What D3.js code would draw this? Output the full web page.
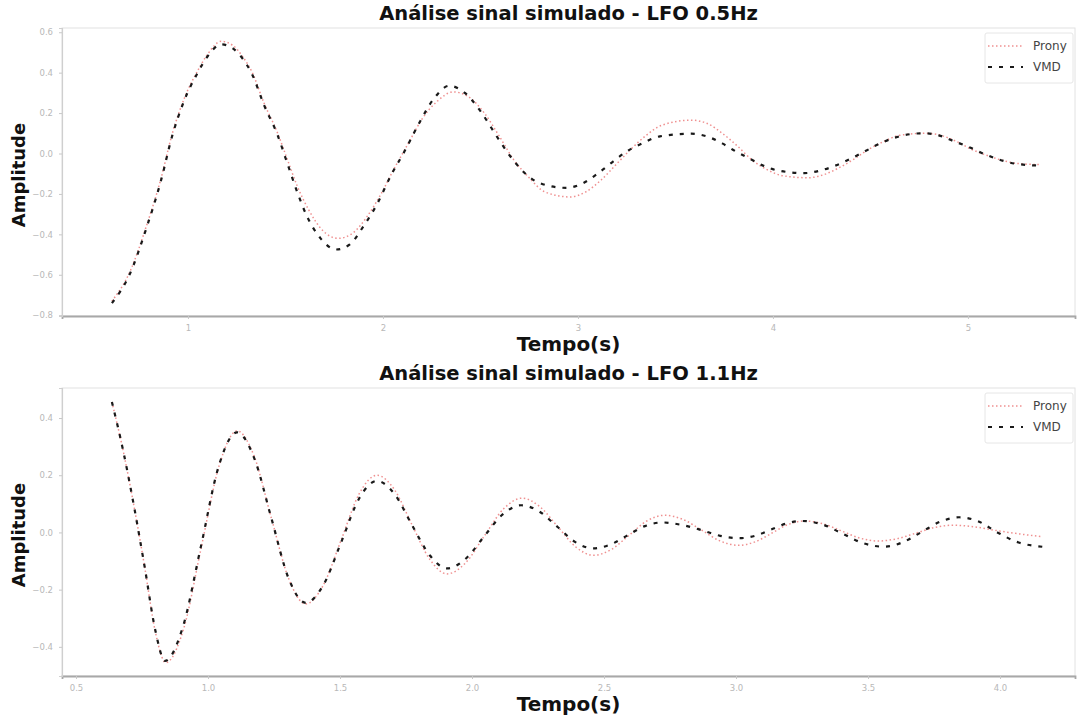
<!DOCTYPE html>
<html>
<head>
<meta charset="utf-8">
<script src="https://cdn.jsdelivr.net/npm/d3@7/dist/d3.min.js"></script>
<style>
  html, body { margin: 0; padding: 0; background: #fff; }
  svg { display: block; }
</style>
</head>
<body>
<svg id="chart" width="1079" height="717"></svg>
<script>
// ---------- DATA ----------
const titles = ["Análise sinal simulado - LFO 0.5Hz", "Análise sinal simulado - LFO 1.1Hz"];
const seriesNames = ["Prony", "VMD"];

// Top plot (LFO 0.5Hz)
const topPronyT = [0.61,0.70,0.79,0.86,0.92,0.98,1.05,1.10,1.17,1.23,1.28,1.33,1.39,1.46,1.51,1.56,1.62,1.69,1.77,1.85,1.92,1.99,2.06,2.13,2.20,2.28,2.36,2.44,2.52,2.60,2.67,2.75,2.83,2.96,3.04,3.12,3.20,3.27,3.35,3.43,3.58,3.66,3.74,3.82,3.89,3.97,4.05,4.18,4.26,4.34,4.42,4.49,4.57,4.65,4.78,4.86,4.94,5.02,5.10,5.18,5.26,5.37];
const topPronyV = [-0.73,-0.59,-0.35,-0.13,0.10,0.27,0.41,0.49,0.555,0.535,0.48,0.40,0.25,0.10,-0.03,-0.16,-0.28,-0.38,-0.42,-0.39,-0.31,-0.20,-0.07,0.05,0.17,0.26,0.305,0.28,0.20,0.08,-0.03,-0.12,-0.19,-0.215,-0.19,-0.13,-0.05,0.02,0.09,0.14,0.165,0.15,0.10,0.035,-0.03,-0.08,-0.11,-0.12,-0.105,-0.07,-0.025,0.02,0.06,0.09,0.10,0.09,0.06,0.02,-0.01,-0.035,-0.05,-0.055];
const topVmdT = [0.61,0.70,0.79,0.86,0.92,0.98,1.05,1.10,1.17,1.23,1.28,1.33,1.39,1.46,1.51,1.56,1.61,1.68,1.76,1.83,1.90,1.97,2.04,2.11,2.18,2.26,2.34,2.42,2.50,2.58,2.65,2.72,2.80,2.94,3.02,3.10,3.18,3.25,3.33,3.42,3.58,3.66,3.74,3.81,3.88,3.95,4.03,4.16,4.24,4.32,4.40,4.47,4.55,4.63,4.77,4.85,4.93,5.01,5.09,5.16,5.24,5.37];
const topVmdV = [-0.74,-0.60,-0.36,-0.14,0.09,0.26,0.40,0.48,0.54,0.52,0.47,0.39,0.24,0.09,-0.05,-0.19,-0.31,-0.42,-0.475,-0.45,-0.36,-0.25,-0.11,0.01,0.14,0.27,0.335,0.30,0.21,0.09,-0.01,-0.09,-0.145,-0.17,-0.15,-0.10,-0.04,0.01,0.05,0.085,0.098,0.085,0.05,0.01,-0.025,-0.06,-0.085,-0.097,-0.085,-0.06,-0.025,0.01,0.05,0.08,0.10,0.09,0.06,0.03,-0.005,-0.03,-0.05,-0.06];

// Bottom plot (LFO 1.1Hz)
const botPronyT = [0.636,0.68,0.72,0.76,0.80,0.84,0.908,0.975,1.043,1.11,1.175,1.24,1.305,1.37,1.437,1.505,1.572,1.64,1.706,1.772,1.84,1.905,1.976,2.047,2.118,2.19,2.257,2.325,2.392,2.46,2.527,2.595,2.662,2.73,2.80,2.87,2.94,3.01,3.072,3.135,3.198,3.26,3.33,3.40,3.47,3.54,3.61,3.68,3.75,3.82,3.90,3.99,4.08,4.16];
const botPronyV = [0.456,0.28,0.09,-0.12,-0.345,-0.455,-0.336,-0.05,0.236,0.355,0.266,0.05,-0.16,-0.25,-0.184,-0.025,0.134,0.20,0.15,0.028,-0.094,-0.145,-0.106,-0.012,0.081,0.12,0.09,0.02,-0.05,-0.08,-0.06,-0.01,0.04,0.06,0.045,0.008,-0.03,-0.045,-0.033,-0.003,0.028,0.04,0.03,0.005,-0.02,-0.03,-0.022,-0.003,0.017,0.025,0.02,0.006,-0.006,-0.015];
const botVmdT = [0.636,0.68,0.72,0.76,0.80,0.837,0.905,0.973,1.04,1.11,1.175,1.24,1.305,1.37,1.437,1.505,1.572,1.64,1.706,1.772,1.84,1.905,1.975,2.045,2.115,2.186,2.255,2.323,2.39,2.46,2.525,2.59,2.655,2.72,2.79,2.87,2.94,3.015,3.075,3.133,3.19,3.25,3.33,3.405,3.48,3.56,3.63,3.70,3.775,3.845,3.915,3.99,4.07,4.16];
const botVmdV = [0.456,0.28,0.09,-0.12,-0.34,-0.449,-0.33,-0.05,0.23,0.35,0.26,0.05,-0.16,-0.246,-0.184,-0.033,0.118,0.18,0.135,0.027,-0.08,-0.126,-0.093,-0.015,0.062,0.095,0.073,0.02,-0.033,-0.056,-0.042,-0.01,0.022,0.035,0.027,0.008,-0.012,-0.02,-0.011,0.01,0.031,0.04,0.027,-0.005,-0.037,-0.05,-0.035,0.0,0.038,0.053,0.04,0.0,-0.035,-0.05];

// Axis ticks
const topXTicks = [1, 2, 3, 4, 5];
const topYTicks = [-0.8, -0.6, -0.4, -0.2, 0.0, 0.2, 0.4, 0.6];
const botXTicks = [0.5, 1.0, 1.5, 2.0, 2.5, 3.0, 3.5, 4.0];
const botYTicks = [-0.4, -0.2, 0.0, 0.2, 0.4];

// ---------- DRAW ----------
const svg = d3.select("#chart");
const fmt1 = d => d3.format(".1f")(d).replace("-", "\u2212");

function panel(cfg) {
  const { top, bottom, left, right, xDomain, yDomain, xTicks, yTicks, xFmt, title, series } = cfg;
  const x = d3.scaleLinear().domain(xDomain).range([left, right]);
  const y = d3.scaleLinear().domain(yDomain).range([bottom, top]);
  const g = svg.append("g");

  // frame
  g.append("rect").attr("x", left).attr("y", top).attr("width", right - left).attr("height", bottom - top)
    .attr("fill", "none").attr("stroke", "#e2e2e2").attr("stroke-width", 1);

  // axes
  const xa = g.append("g").attr("transform", `translate(0,${bottom})`)
    .call(d3.axisBottom(x).tickValues(xTicks).tickFormat(xFmt).tickSize(3).tickPadding(6));
  xa.select(".domain").attr("stroke", "#a8a8a8").attr("stroke-width", 1.8);
  xa.selectAll(".tick line").attr("stroke", "#c8c8c8");
  xa.selectAll(".tick text").attr("fill", "#b8b8b8").attr("font-size", 8.5).attr("font-family", "DejaVu Sans");

  const ya = g.append("g").attr("transform", `translate(${left},0)`)
    .call(d3.axisLeft(y).tickValues(yTicks).tickFormat(fmt1).tickSize(3).tickPadding(6));
  ya.select(".domain").attr("stroke", "#cfcfcf").attr("stroke-width", 1.2);
  ya.selectAll(".tick line").attr("stroke", "#c8c8c8");
  ya.selectAll(".tick text").attr("fill", "#b8b8b8").attr("font-size", 8.5).attr("font-family", "DejaVu Sans");

  // lines
  const line = d3.line().x(d => x(d[0])).y(d => y(d[1])).curve(d3.curveMonotoneX);
  series.forEach(s => {
    const pts = s.t.map((t, i) => [t, s.v[i]]);
    g.append("path").datum(pts).attr("d", line).attr("fill", "none")
      .attr("stroke", s.color).attr("stroke-width", s.width).attr("stroke-dasharray", s.dash);
  });

  // title & labels
  g.append("text").attr("x", (left + right) / 2).attr("y", top - 8).attr("text-anchor", "middle")
    .attr("font-family", "DejaVu Sans").attr("font-weight", "bold").attr("font-size", 19.5).attr("fill", "#111")
    .text(title);
  g.append("text").attr("x", (left + right) / 2).attr("y", bottom + 35).attr("text-anchor", "middle")
    .attr("font-family", "DejaVu Sans").attr("font-weight", "bold").attr("font-size", 20).attr("fill", "#111")
    .text("Tempo(s)");
  g.append("text").attr("transform", `translate(25,${(top + bottom) / 2 + 3}) rotate(-90)`).attr("text-anchor", "middle")
    .attr("font-family", "DejaVu Sans").attr("font-weight", "bold").attr("font-size", 18).attr("fill", "#111")
    .text("Amplitude");

  // legend
  const lg = g.append("g").attr("transform", `translate(${right - 90},${top + 5})`);
  lg.append("rect").attr("x", 0).attr("y", 0).attr("width", 88).attr("height", 50).attr("rx", 2)
    .attr("fill", "#fff").attr("stroke", "#e6e6e6");
  series.forEach((s, i) => {
    const yy = 13 + i * 21;
    lg.append("line").attr("x1", 3).attr("x2", 38).attr("y1", yy).attr("y2", yy)
      .attr("stroke", s.color).attr("stroke-width", s.width).attr("stroke-dasharray", s.dash);
    lg.append("text").attr("x", 48).attr("y", yy + 4).attr("font-family", "DejaVu Sans").attr("font-size", 12)
      .attr("fill", "#444").text(s.name);
  });
}

const styles = [
  { color: "#ef9090", width: 1.5, dash: "1.5,2.5" },
  { color: "#1a1a1a", width: 2.2, dash: "4,7" }
];

panel({
  top: 28, bottom: 316, left: 62, right: 1075,
  xDomain: [0.354, 5.549], yDomain: [-0.804, 0.621],
  xTicks: topXTicks, yTicks: topYTicks, xFmt: d3.format("d"),
  title: titles[0],
  series: [
    Object.assign({ name: seriesNames[0], t: topPronyT, v: topPronyV }, styles[0]),
    Object.assign({ name: seriesNames[1], t: topVmdT, v: topVmdV }, styles[1])
  ]
});

panel({
  top: 388, bottom: 676, left: 62, right: 1075,
  xDomain: [0.447, 4.284], yDomain: [-0.502, 0.505],
  xTicks: botXTicks, yTicks: botYTicks, xFmt: d3.format(".1f"),
  title: titles[1],
  series: [
    Object.assign({ name: seriesNames[0], t: botPronyT, v: botPronyV }, styles[0]),
    Object.assign({ name: seriesNames[1], t: botVmdT, v: botVmdV }, styles[1])
  ]
});
</script>
</body>
</html>
